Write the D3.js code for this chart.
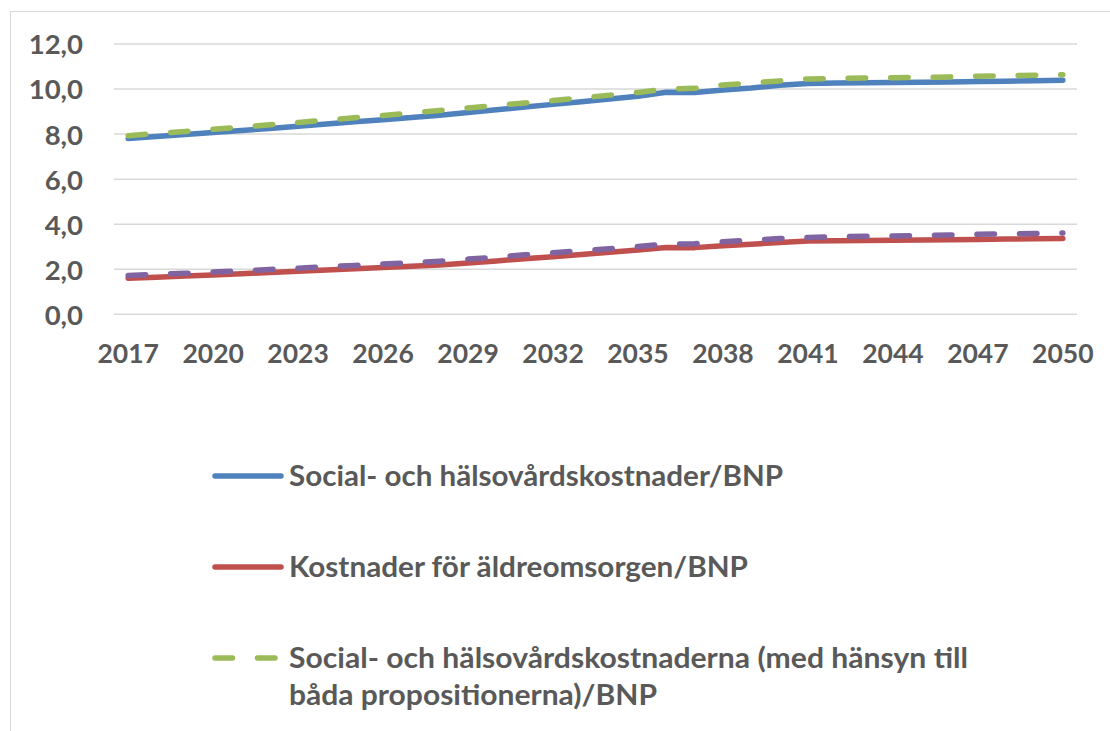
<!DOCTYPE html>
<html>
<head>
<meta charset="utf-8">
<script src="https://cdn.jsdelivr.net/npm/d3@7"></script>
<style>
  html, body { margin: 0; padding: 0; background: #fff; }
  svg { display: block; }
  text { font-family: Lato, "Open Sans", sans-serif; font-weight: bold; fill: #595959; }
</style>
</head>
<body>
<svg id="chart" width="1110" height="731"></svg>
<script>
const years = d3.range(2017, 2051);
const tickYears = [2017, 2020, 2023, 2026, 2029, 2032, 2035, 2038, 2041, 2044, 2047, 2050];
const yTicks = [0, 2, 4, 6, 8, 10, 12];

const healthCosts = [7.80, 7.89, 7.98, 8.07, 8.16, 8.25, 8.35, 8.45, 8.55, 8.64, 8.74, 8.84,
  8.96, 9.08, 9.20, 9.32, 9.44, 9.56, 9.68, 9.86, 9.85, 9.96, 10.05, 10.17, 10.25, 10.27,
  10.28, 10.29, 10.30, 10.31, 10.33, 10.35, 10.37, 10.39];
const elderlyCosts = [1.60, 1.65, 1.70, 1.75, 1.80, 1.86, 1.91, 1.97, 2.02, 2.08, 2.13, 2.19,
  2.28, 2.37, 2.47, 2.56, 2.66, 2.75, 2.85, 2.97, 2.96, 3.04, 3.11, 3.19, 3.25, 3.27,
  3.28, 3.29, 3.30, 3.31, 3.32, 3.34, 3.35, 3.37];
const healthCostsProp = [7.93, 8.03, 8.12, 8.22, 8.31, 8.41, 8.52, 8.62, 8.73, 8.83, 8.94, 9.05,
  9.16, 9.27, 9.38, 9.49, 9.61, 9.73, 9.85, 10.01, 10.03, 10.18, 10.27, 10.36, 10.45, 10.47,
  10.49, 10.50, 10.52, 10.54, 10.57, 10.59, 10.61, 10.64];
const elderlyCostsProp = [1.72, 1.77, 1.82, 1.88, 1.93, 1.99, 2.05, 2.11, 2.17, 2.23, 2.29, 2.36,
  2.45, 2.54, 2.64, 2.73, 2.82, 2.91, 3.01, 3.12, 3.13, 3.22, 3.29, 3.36, 3.41, 3.44,
  3.46, 3.48, 3.50, 3.52, 3.55, 3.57, 3.59, 3.61];

const seriesNames = [
  "Social- och hälsovårdskostnader/BNP",
  "Kostnader för äldreomsorgen/BNP",
  "Social- och hälsovårdskostnaderna (med hänsyn till båda propositionerna)/BNP",
  "Kostnader för äldreomsorgen (med hänsyn till båda propositionerna)/BNP"
];
const seriesColors = ["#4F81BD", "#C0504D", "#9BBB59", "#8064A2"];

const svg = d3.select("#chart");

// chart frame
svg.append("rect").attr("x", 10.5).attr("y", 11.5).attr("width", 1200).attr("height", 800)
  .attr("fill", "none").attr("stroke", "#D9D9D9").attr("stroke-width", 1);

const plot = { left: 114, right: 1077, top: 44, bottom: 314.3 };

const x = d3.scaleBand().domain(years).range([plot.left, plot.right]).padding(0);
const xc = d => x(d) + x.bandwidth() / 2;
const y = d3.scaleLinear().domain([0, 12]).range([plot.bottom, plot.top]);

// gridlines
svg.append("g").selectAll("line").data(yTicks).join("line")
  .attr("x1", plot.left).attr("x2", plot.right)
  .attr("y1", d => y(d)).attr("y2", d => y(d))
  .attr("stroke", "#D9D9D9").attr("stroke-width", 1.5);

// y axis
const yAxis = svg.append("g").attr("transform", `translate(${plot.left},0)`)
  .call(d3.axisLeft(y).tickValues(yTicks).tickSize(0).tickPadding(31)
    .tickFormat(d => d3.format(".1f")(d).replace(".", ",")));
yAxis.select(".domain").remove();
yAxis.selectAll("text").style("font-size", "27.5px").attr("dy", "0.36em")
  .style("font-family", "Lato, sans-serif").attr("fill", "#595959");

// x axis
const xAxis = svg.append("g").attr("transform", `translate(0,${plot.bottom})`)
  .call(d3.axisBottom(x).tickValues(tickYears).tickSize(0).tickPadding(30));
xAxis.select(".domain").remove();
xAxis.selectAll("text").style("font-size", "26.5px").attr("dy", "0.71em")
  .style("font-family", "Lato, sans-serif").attr("fill", "#595959");

const line = d3.line().x((d, i) => xc(years[i])).y(d => y(d));

const dataSets = [healthCosts, elderlyCosts, healthCostsProp, elderlyCostsProp];
const dashes = [null, null, "17.5 25", "17.5 25"];

dataSets.forEach((data, i) => {
  svg.append("path").datum(data)
    .attr("d", line)
    .attr("fill", "none")
    .attr("stroke", seriesColors[i])
    .attr("stroke-width", 5.5)
    .attr("stroke-linecap", "round")
    .attr("stroke-linejoin", "round")
    .attr("stroke-dasharray", dashes[i]);
});

// legend (first three entries visible)
const legendItems = [
  { idx: 0, y: 476, lines: ["Social- och hälsovårdskostnader/BNP"], widths: [494] },
  { idx: 1, y: 567, lines: ["Kostnader för äldreomsorgen/BNP"], widths: [459] },
  { idx: 2, y: 658, lines: ["Social- och hälsovårdskostnaderna (med hänsyn till", "båda propositionerna)/BNP"], widths: [679, 368] }
];
const lg = svg.append("g");
legendItems.forEach(item => {
  lg.append("line").attr("x1", 215).attr("x2", 281).attr("y1", item.y).attr("y2", item.y)
    .attr("stroke", seriesColors[item.idx]).attr("stroke-width", 5.5)
    .attr("stroke-linecap", "round")
    .attr("stroke-dasharray", dashes[item.idx] ? "17.5 25" : null);
  item.lines.forEach((s, j) => {
    lg.append("text").attr("x", 289).attr("y", item.y + 10 + j * 37)
      .style("font-size", "28px")
      .attr("textLength", item.widths[j])
      .attr("lengthAdjust", "spacingAndGlyphs")
      .text(s);
  });
});
</script>
</body>
</html>
